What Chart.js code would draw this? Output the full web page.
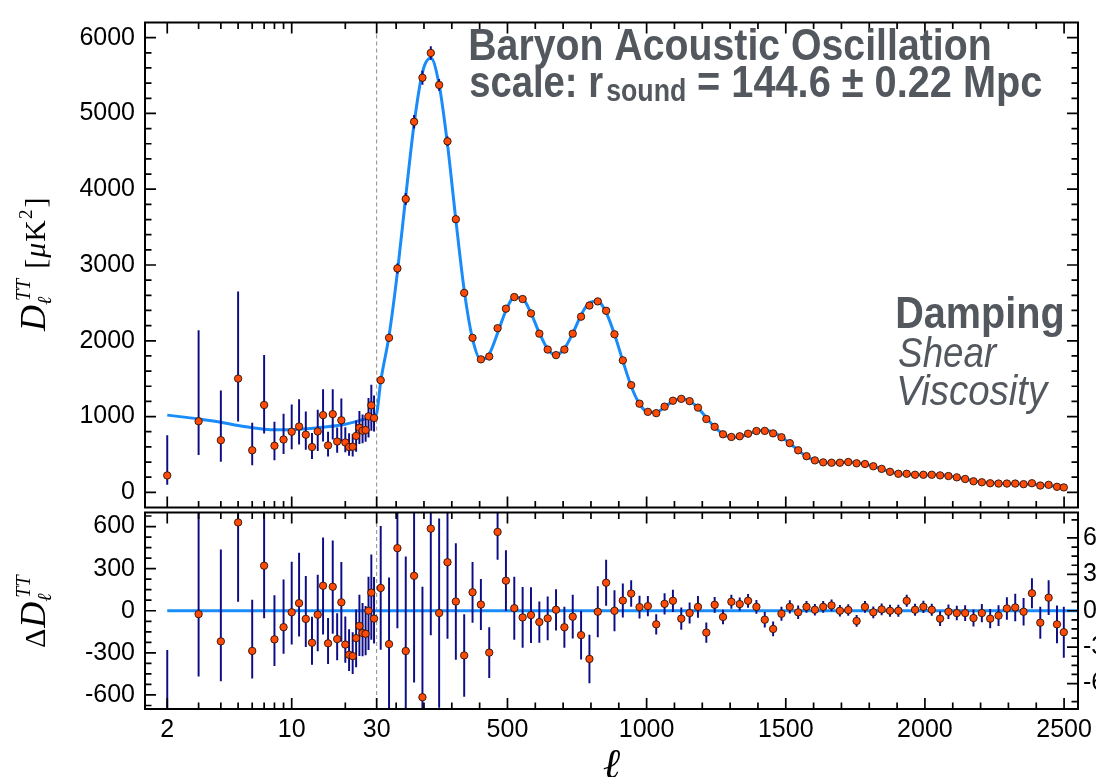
<!DOCTYPE html>
<html><head><meta charset="utf-8">
<script src="https://cdn.jsdelivr.net/npm/chart.js@4.4.1/dist/chart.umd.min.js"></script>
<style>
html,body{margin:0;padding:0;background:#fff;overflow:hidden;width:1096px;height:777px;}
#wrap{position:relative;width:1096px;height:777px;overflow:hidden;background:#fff;}
canvas{position:absolute;left:0;}
#cTop{top:0;}
#cBot{top:490px;}
</style></head><body>
<div id="wrap">
<canvas id="cTop" width="1140" height="530"></canvas>
<canvas id="cBot" width="1140" height="287"></canvas>
</div>
<script>
// ---------------- data ----------------
const lowEll = [2,3,4,5,6,7,8,9,10,11,12,13,14,15,16,17,18,19,20,21,22,23,24,25,26,27,28,29];
const lowD = [223,938,688,1501,555,1153,615,697,800,869,761,598,804,1019,619,1032,671,951,658,598,602,744,852,813,822,1002,1148,981];
const lowErrUp = [530,1200,655,1150,365,660,315,340,360,360,305,185,285,343,180,330,185,288,200,183,169,204,222,214,197,242,272,297];
const lowErrDown = [124,445,285,565,196,375,190,190,230,238,200,157,260,348,147,335,150,280,130,115,128,208,215,165,153,279,336,178];
const lowRes = [-810,-24,-218,629,-286,321,-204,-117,-11,54,-58,-228,-28,178,-232,171,-202,60,-241,-314,-323,-195,-108,-159,-164,0,129,-56];

const hiEll = [44.5,74.5,104.5,134.5,164.5,194.5,224.5,254.5,284.5,314.5,344.5,374.5,404.5,434.5,464.5,494.5,524.5,554.5,584.5,614.5,644.5,674.5,704.5,734.5,764.5,794.5,824.5,854.5,884.5,914.5,944.5,974.5,1004.5,1034.5,1064.5,1094.5,1124.5,1154.5,1184.5,1214.5,1244.5,1274.5,1304.5,1334.5,1364.5,1394.5,1424.5,1454.5,1484.5,1514.5,1544.5,1574.5,1604.5,1634.5,1664.5,1694.5,1724.5,1754.5,1784.5,1814.5,1844.5,1874.5,1904.5,1934.5,1964.5,1994.5,2024.5,2054.5,2084.5,2114.5,2144.5,2174.5,2204.5,2234.5,2264.5,2294.5,2324.5,2354.5,2384.5,2414.5,2444.5,2474.5,2499];
const hiD = [1480,2039,2955,3871,4890,5471,5798,5376,4632,3604,2632,2039,1755,1792,2166,2424,2577,2551,2361,2094,1884,1811,1884,2094,2318,2465,2520,2396,2086,1742,1415,1170,1062,1045,1131,1209,1234,1204,1118,968,865,766,731,740,774,809,811,778,727,649,555,477,422,396,391,391,400,383,374,344,310,271,245,245,232,232,232,224,215,198,176,146,133,120,116,116,116,108,120,90,99,73,65];
const hiErr = [51,55,66,78,88,91,88,78,63,48,34,25,21,21,23,25,26,25,23,17,18,17,17,18,20,20,21,19,17,14,11,9.4,8.3,8.3,8.7,9.2,9.2,8.6,8.9,8.3,6.5,6,5.7,5.5,5.7,5.7,6.4,6.1,5.7,5.4,5.6,4.9,4.8,4.8,4.8,4.8,4.8,4.8,4.8,4.8,4.8,5,5,5,5,5,5,6,6,6,6.5,7,7.5,8,8.5,9.3,11.3,11.3,12.4,13.2,14.3,15.6,21];
const hiRes = [18.8,-27.5,51.6,-33.2,28.8,-71.3,67.7,-1.9,40,7.6,-36.8,15.2,5.1,-34.5,65,24.8,2.1,-5.5,-3.6,-9.3,-6.3,0.8,-13.6,-4.9,-20.1,-39.7,-0.8,23.1,0,8.4,14.2,3,3.8,-11.2,5.7,8.2,-6.5,-1.9,3.2,-18,4.9,-5.1,7.4,5.5,8.2,3.2,-7.4,-15,-2.5,3.2,-1.3,3.2,0.8,3.2,4.4,0,0.6,-8.4,3.2,-1.3,1.1,0,0,8.2,0.8,3.2,0.8,-6.5,-0.8,-1.9,-1.9,-6,-1.9,-6.5,-4,1.9,2.7,-0.8,14.4,-9.8,10.8,-11.2,-17.7];

const modelEll = [2,3,4,5,6,7,8,10,12,15,20,25,29,30,44.5,74.5,104.5,134.5,164.5,194.5,224.5,254.5,284.5,314.5,344.5,374.5,404.5,434.5,464.5,494.5,524.5,554.5,584.5,614.5,644.5,674.5,704.5,734.5,764.5,794.5,824.5,854.5,884.5,914.5,944.5,974.5,1004.5,1034.5,1064.5,1094.5,1124.5,1154.5,1184.5,1214.5,1244.5,1274.5,1304.5,1334.5,1364.5,1394.5,1424.5,1454.5,1484.5,1514.5,1544.5,1574.5,1604.5,1634.5,1664.5,1694.5,1724.5,1754.5,1784.5,1814.5,1844.5,1874.5,1904.5,1934.5,1964.5,1994.5,2024.5,2054.5,2084.5,2114.5,2144.5,2174.5,2204.5,2234.5,2264.5,2294.5,2324.5,2354.5,2384.5,2414.5,2444.5,2474.5,2499];
const modelD = [1019,968,925,882,852,834,826,826,839,860,899,959,1011,1045,1461,2066,2903,3904,4861,5542,5730,5378,4592,3596,2669,2024,1750,1827,2101,2399,2575,2556,2365,2103,1890,1810,1898,2099,2338,2505,2521,2373,2086,1734,1401,1167,1058,1056,1125,1201,1240,1206,1115,986,860,771,724,735,766,806,818,793,730,646,556,474,421,393,387,391,399,391,371,345,309,271,245,237,231,229,231,231,216,200,178,152,135,127,120,114,113,109,106,100,88,84,83];

// tick values
const xLabelTicks = [2,10,30,500,1000,1500,2000,2500];
const xMinorTicks = [3,4,5,6,7,8,9,20,100,200,300,400,600,700,800,900,1100,1200,1300,1400,1600,1700,1800,1900,2100,2200,2300,2400];
const yTopLabels = [0,1000,2000,3000,4000,5000,6000];
const yTopMinor = [200,400,600,800,1200,1400,1600,1800,2200,2400,2600,2800,3200,3400,3600,3800,4200,4400,4600,4800,5200,5400,5600,5800];
const yResLowLabels = [-600,-300,0,300,600];
const yResLowMinor = [-675,-525,-450,-375,-225,-150,-75,75,150,225,375,450,525,675];
const yResHighLabels = [-60,-30,0,30,60];
const yResHighMinor = [-75,-52.5,-45,-37.5,-22.5,-15,-7.5,7.5,15,22.5,37.5,45,52.5,75];

// ---------------- hybrid log/linear ell axis ----------------
const ELL_MIN = 1.5, ELL_SPLIT = 30, ELL_MAX = 2550, LOG_FRAC = 0.2483;
function toU(v){
  if (v <= ELL_SPLIT) return LOG_FRAC * Math.log(v/ELL_MIN) / Math.log(ELL_SPLIT/ELL_MIN);
  return LOG_FRAC + (1-LOG_FRAC) * (v-ELL_SPLIT) / (ELL_MAX-ELL_SPLIT);
}
function fromU(u){
  if (u <= LOG_FRAC) return ELL_MIN * Math.exp(u/LOG_FRAC * Math.log(ELL_SPLIT/ELL_MIN));
  return ELL_SPLIT + (u-LOG_FRAC)/(1-LOG_FRAC) * (ELL_MAX-ELL_SPLIT);
}
class HybridScale extends Chart.LinearScale {
  determineDataLimits(){ this.min = ELL_MIN; this.max = ELL_MAX; }
  buildTicks(){ return xLabelTicks.map(v => ({value: v})); }
  getPixelForValue(v){ return this.getPixelForDecimal(toU(v)); }
  getValueForPixel(p){ return fromU(this.getDecimalForPixel(p)); }
}
HybridScale.id = 'hybrid';
HybridScale.defaults = { ticks: { callback: v => String(v) } };
Chart.register(HybridScale);

Chart.defaults.font.family = '"Liberation Sans", Arial, sans-serif';
Chart.defaults.color = '#000';

const C_POINT = '#ff4a08', C_EDGE = '#2a1208', C_ERR = '#0c0c86', C_MODEL = '#1a8cfa', C_GREY = '#53575e';
const tickFont = { size: 25, family: '"Liberation Sans", Arial, sans-serif', lineHeight: 1.0 };

// ---------------- plugins ----------------
const frameTicks = {
  id: 'frameTicks',
  afterDatasetsDraw(chart, args, o) {
    const ctx = chart.ctx, a = chart.chartArea, xs = chart.scales.x;
    const majL = 11, minL = 6.5;
    ctx.save();
    ctx.strokeStyle = '#000';
    ctx.lineWidth = 1.7;
    ctx.beginPath();
    const xt = (list, len) => list.forEach(v => {
      const x = xs.getPixelForValue(v);
      ctx.moveTo(x, a.top); ctx.lineTo(x, a.top + len);
      ctx.moveTo(x, a.bottom); ctx.lineTo(x, a.bottom - len);
    });
    xt(xLabelTicks, majL); xt(xMinorTicks, minL);
    (o.sides || []).forEach(sd => {
      const s = chart.scales[sd.id];
      const x0 = sd.right ? a.right : a.left, dir = sd.right ? -1 : 1;
      const yt = (list, len) => list.forEach(v => {
        const y = s.getPixelForValue(v);
        ctx.moveTo(x0, y); ctx.lineTo(x0 + dir * len, y);
      });
      yt(sd.major, majL); yt(sd.minor, minL);
    });
    ctx.stroke();
    ctx.lineWidth = 2;
    ctx.strokeRect(a.left, a.top, a.right - a.left, a.bottom - a.top);
    ctx.restore();
  }
};

function fitText(ctx, text, font, inkLeft, inkRight, baseline){
  ctx.font = font;
  const m = ctx.measureText(text);
  const inkW = m.actualBoundingBoxLeft + m.actualBoundingBoxRight;
  const s = (inkRight - inkLeft) / inkW;
  ctx.save();
  ctx.translate(inkLeft + m.actualBoundingBoxLeft * s, baseline);
  ctx.scale(s, 1);
  ctx.fillText(text, 0, 0);
  ctx.restore();
}
function drawRuns(ctx, runs){
  let cx = 0, prevStart = 0, prevEnd = 0;
  runs.forEach(r => {
    ctx.font = r.font;
    const w = ctx.measureText(r.text).width;
    const start = (r.stack ? prevStart : cx) + (r.dx || 0);
    ctx.fillText(r.text, start, r.dy || 0);
    const end = start + w;
    cx = r.stack ? Math.max(prevEnd, end) : end;
    prevStart = start; prevEnd = end;
  });
}
const SERIF = '"Liberation Serif", "DejaVu Serif", serif';
const ELLF = '"DejaVu Serif", serif';

const topTexts = {
  id: 'topTexts',
  afterDraw(chart){
    const ctx = chart.ctx;
    ctx.save();
    ctx.fillStyle = C_GREY;
    ctx.textAlign = 'left'; ctx.textBaseline = 'alphabetic';
    const B = 'bold 44px "Liberation Sans", Arial, sans-serif';
    fitText(ctx, 'Baryon Acoustic Oscillation', B, 470, 990, 60);
    fitText(ctx, 'scale: r', B, 470, 603, 97);
    fitText(ctx, 'sound', 'bold 32px "Liberation Sans", Arial, sans-serif', 607, 685, 101);
    fitText(ctx, '= 144.6 \u00B1 0.22 Mpc', B, 698, 1042, 97);
    fitText(ctx, 'Damping', B, 897, 1062, 328);
    fitText(ctx, 'Shear', 'italic 42px "Liberation Sans", Arial, sans-serif', 899, 998, 367);
    fitText(ctx, 'Viscosity', 'italic 42px "Liberation Sans", Arial, sans-serif', 899, 1050, 405);
    // y title
    ctx.fillStyle = '#000';
    ctx.translate(45, 331);
    ctx.rotate(-Math.PI/2);
    drawRuns(ctx, [
      {text:'D', font:'italic 36px ' + SERIF},
      {text:'\u2113', font:'italic 20px ' + ELLF, dy:6, dx:0},
      {text:'TT', font:'italic 20px ' + SERIF, dy:-15, dx:4, stack:true},
      {text:'[', font:'30px ' + SERIF, dx:10},
      {text:'\u03BC', font:'italic 30px ' + SERIF, dx:1},
      {text:'K', font:'30px ' + SERIF, dx:1},
      {text:'2', font:'19px ' + SERIF, dy:-13, dx:1},
      {text:']', font:'30px ' + SERIF, dx:2}
    ]);
    ctx.restore();
  }
};
const botTexts = {
  id: 'botTexts',
  afterDraw(chart){
    const ctx = chart.ctx;
    ctx.save();
    ctx.fillStyle = '#000';
    ctx.textAlign = 'center'; ctx.textBaseline = 'alphabetic';
    ctx.font = 'italic 42px ' + ELLF;
    ctx.fillText('\u2113', 611.5, 778 - 490);
    ctx.textAlign = 'left';
    ctx.translate(45, 648 - 490);
    ctx.rotate(-Math.PI/2);
    drawRuns(ctx, [
      {text:'\u0394', font:'30px ' + SERIF},
      {text:'D', font:'italic 36px ' + SERIF, dx:1},
      {text:'\u2113', font:'italic 20px ' + ELLF, dy:6},
      {text:'TT', font:'italic 20px ' + SERIF, dy:-15, dx:4, stack:true}
    ]);
    ctx.restore();
  }
};

// ---------------- helpers building datasets from the arrays ----------------
const pts = (xs, ys) => xs.map((x, i) => ({x, y: ys[i]}));
const bars = (xs, ys, up, down) => xs.map((x, i) => ({x, y: [ys[i] - down[i], ys[i] + up[i]]}));

const commonX = (display) => ({
  type: 'hybrid', display, position: 'bottom', offset: false,
  grid: { display: false, drawTicks: false, offset: false },
  border: { display: false },
  ticks: { font: tickFont, padding: 9, autoSkip: false, maxRotation: 0, minRotation: 0, callback: v => String(v) },
  afterFit: s => { s.height = display ? 68 : 0; }
});
const yAxis = (pos, min, max, labels, width, pad, showLabels=true) => ({
  type: 'linear', position: pos, min, max,
  grid: { display: false, drawTicks: false },
  border: { display: false },
  ticks: { display: showLabels, font: tickFont, padding: pad, callback: v => String(v) },
  afterBuildTicks: s => { s.ticks = labels.map(v => ({value: v})); },
  afterFit: s => { s.width = width; }
});

const baseOpts = {
  responsive: false, animation: false, events: [],
  plugins: { legend: { display: false }, tooltip: { enabled: false } }
};

// ---------------- top panel ----------------
new Chart(document.getElementById('cTop'), {
  type: 'scatter',
  data: { datasets: [
    { type:'scatter', data: pts(lowEll, lowD), pointRadius:3.7, pointBackgroundColor:C_POINT, pointBorderColor:C_EDGE, pointBorderWidth:0.9, order:0 },
    { type:'scatter', data: pts(hiEll, hiD), pointRadius:3.7, pointBackgroundColor:C_POINT, pointBorderColor:C_EDGE, pointBorderWidth:0.9, order:0 },
    { type:'bar', data: bars(lowEll, lowD, lowErrUp, lowErrDown), backgroundColor:C_ERR, borderWidth:0, grouped:false, maxBarThickness:2, order:1 },
    { type:'bar', data: bars(hiEll, hiD, hiErr, hiErr), backgroundColor:C_ERR, borderWidth:0, grouped:false, maxBarThickness:2, order:1 },
    { type:'line', data: pts(modelEll, modelD), borderColor:C_MODEL, borderWidth:3, pointRadius:0, cubicInterpolationMode:'monotone', fill:false, order:2 },
    { type:'line', data: [{x:30,y:-200},{x:30,y:6200}], borderColor:'#8a8a8a', borderWidth:1, borderDash:[4,3], pointRadius:0, order:3 }
  ]},
  options: Object.assign({}, baseOpts, {
    layout: { padding: { left:0, top:14, right:62, bottom:20 } },
    scales: {
      x: commonX(false),
      y: yAxis('left', -200, 6200, yTopLabels, 145, 10)
    },
    plugins: Object.assign({}, baseOpts.plugins, {
      frameTicks: { sides: [
        { id:'y', right:false, major:yTopLabels, minor:yTopMinor },
        { id:'y', right:true, major:yTopLabels, minor:yTopMinor }
      ]}
    })
  }),
  plugins: [frameTicks, topTexts]
});

// ---------------- residual panel ----------------
new Chart(document.getElementById('cBot'), {
  type: 'scatter',
  data: { datasets: [
    { type:'scatter', data: pts(lowEll, lowRes), yAxisID:'y', pointRadius:3.7, pointBackgroundColor:C_POINT, pointBorderColor:C_EDGE, pointBorderWidth:0.9, order:0 },
    { type:'scatter', data: pts(hiEll, hiRes), yAxisID:'yR', pointRadius:3.7, pointBackgroundColor:C_POINT, pointBorderColor:C_EDGE, pointBorderWidth:0.9, order:0 },
    { type:'bar', data: bars(lowEll, lowRes, lowErrUp, lowErrDown), yAxisID:'y', backgroundColor:C_ERR, borderWidth:0, grouped:false, maxBarThickness:2, order:1 },
    { type:'bar', data: bars(hiEll, hiRes, hiErr, hiErr), yAxisID:'yR', backgroundColor:C_ERR, borderWidth:0, grouped:false, maxBarThickness:2, order:1 },
    { type:'line', data: [{x:2,y:0},{x:ELL_MAX,y:0}], yAxisID:'y', borderColor:C_MODEL, borderWidth:3, pointRadius:0, order:2 },
    { type:'line', data: [{x:30,y:-700},{x:30,y:700}], yAxisID:'y', borderColor:'#8a8a8a', borderWidth:1, borderDash:[4,3], pointRadius:0, order:3 }
  ]},
  options: Object.assign({}, baseOpts, {
    layout: { padding: { left:0, top:20, right:0, bottom:0 } },
    scales: {
      x: commonX(true),
      y: yAxis('left', -700, 700, yResLowLabels, 145, 10),
      yR: yAxis('right', -81, 81, yResHighLabels, 62, 5)
    },
    plugins: Object.assign({}, baseOpts.plugins, {
      frameTicks: { sides: [
        { id:'y', right:false, major:yResLowLabels, minor:yResLowMinor },
        { id:'yR', right:true, major:yResHighLabels, minor:yResHighMinor }
      ]}
    })
  }),
  plugins: [frameTicks, botTexts]
});
</script>
</body></html>
